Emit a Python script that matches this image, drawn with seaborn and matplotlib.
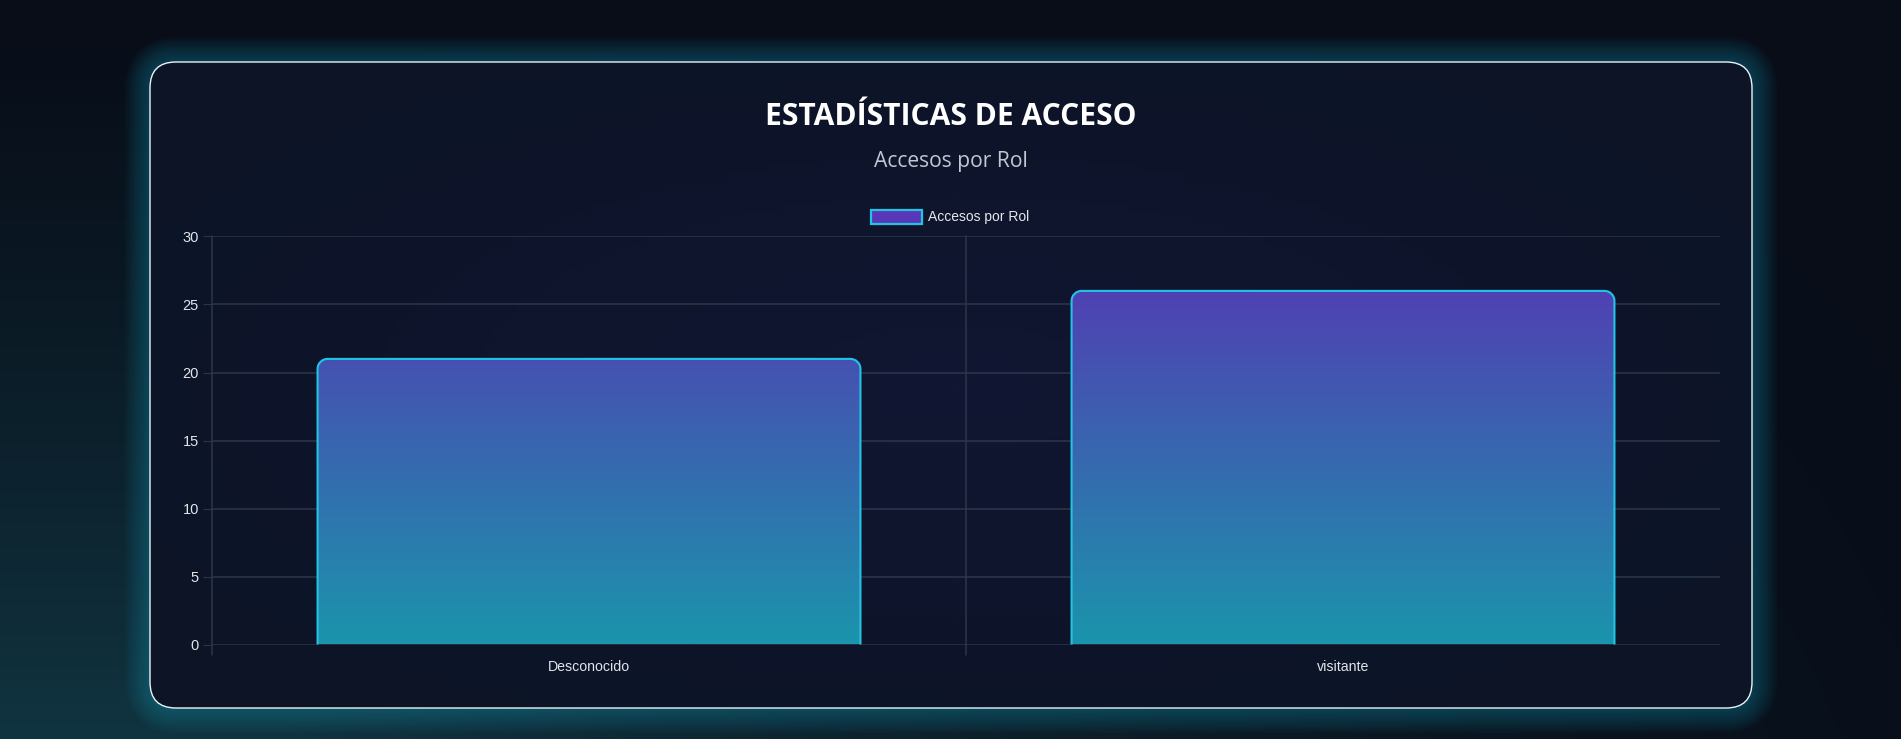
import numpy as np
import pandas as pd
import matplotlib
matplotlib.use("Agg")
import matplotlib.pyplot as plt
import seaborn as sns
from matplotlib.patches import FancyBboxPatch, PathPatch, Rectangle
from matplotlib.path import Path

# datos del grafico
roles = ["Desconocido", "visitante"]
accesos = [21, 26]
y_ticks = [0, 5, 10, 15, 20, 25, 30]
titulo = "ESTADÍSTICAS DE ACCESO"
subtitulo = "Accesos por Rol"
serie = "Accesos por Rol"

W, H = 1901, 739
sns.set_theme(style="dark")
plt.rcParams["font.family"] = ["Liberation Sans", "DejaVu Sans"]

fig = plt.figure(figsize=(W / 100, H / 100), dpi=100)

# ---- fondo de pagina (pixeles) ----
bg = fig.add_axes([0, 0, 1, 1])
bg.set_xlim(0, W)
bg.set_ylim(H, 0)
bg.axis("off")

yy, xx = np.mgrid[0:H, 0:W]
ty = yy / H
tx = xx / W
top = np.array([8, 13, 24]) / 255
teal = np.array([16, 52, 64]) / 255
w = np.clip(ty, 0, 1) ** 1.3 * np.clip(1.15 - tx, 0, 1) ** 1.5
w = w[..., None]
img = top * (1 - w) + teal * w
bg.imshow(img, extent=(0, W, H, 0), aspect="auto", zorder=0)

# tarjeta con brillo
cx0, cy0, cx1, cy1 = 150, 62, 1752, 708
for lw in np.linspace(36, 3, 12):
    glow = FancyBboxPatch((cx0, cy0), cx1 - cx0, cy1 - cy0,
                          boxstyle="round,pad=0,rounding_size=26",
                          fc="none", ec="#1aa6c4", lw=lw, alpha=0.03, zorder=1)
    bg.add_patch(glow)

card = FancyBboxPatch((cx0, cy0), cx1 - cx0, cy1 - cy0,
                      boxstyle="round,pad=0,rounding_size=26",
                      fc="#0d1326", ec="none", zorder=2)
bg.add_patch(card)
cy_, cx_ = np.mgrid[0:100, 0:200]
r = np.sqrt(((cx_ - 100) / 100) ** 2 + ((cy_ - 50) / 50) ** 2)
c_in = np.array([17, 22, 50]) / 255
c_out = np.array([12, 20, 38]) / 255
k = np.clip(r / 1.2, 0, 1)[..., None]
card_img = c_in * (1 - k) + c_out * k
im = bg.imshow(card_img, extent=(cx0, cx1, cy1, cy0), aspect="auto", zorder=2)
im.set_clip_path(card)
bg.add_patch(FancyBboxPatch((cx0, cy0), cx1 - cx0, cy1 - cy0,
                            boxstyle="round,pad=0,rounding_size=26",
                            fc="none", ec="#e8f4f8", lw=1.0, zorder=3))

# titulos
fig.text(0.5, 1 - 117 / H, titulo, ha="center", va="center", color="white",
         fontsize=21.6, fontweight="bold", family=["Open Sans", "DejaVu Sans"])
fig.text(0.5, 1 - 162 / H, subtitulo, ha="center", va="center", color="#c3c7d0",
         fontsize=15.2, family=["Open Sans", "DejaVu Sans"])

# leyenda
lx0, lx1, ly = 871, 922, 217
bg.add_patch(Rectangle((lx0, ly - 7), lx1 - lx0, 14, fc="#5a36b8", ec="#22c4e6",
                       lw=1.6, zorder=4))
bg.text(lx1 + 6, ly, serie, ha="left", va="center", color="#e6e6ee",
        fontsize=10, zorder=4)

# ---- grafico ----
ax = fig.add_axes([212 / W, (H - 644.5) / H, (1720 - 212) / W, 408 / H])
ax.set_facecolor("none")
df = pd.DataFrame({"rol": roles, "accesos": accesos})
sns.barplot(data=df, x="rol", y="accesos", ax=ax, width=0.72, color="#5a36b8")
ax.set_xlim(-0.5, len(roles) - 0.5)
ax.set_ylim(0, 30)
ax.set_yticks(y_ticks)
ax.set_xlabel("")
ax.set_ylabel("")
for s in ax.spines.values():
    s.set_visible(False)

grid_c = "#2b3749"
ax.grid(False)
for v in y_ticks:
    ax.axhline(v, color=grid_c, lw=1.1, zorder=0.5)
ext = -10 / 408
for xv in np.arange(-0.5, len(roles) - 1, 1.0):
    ax.axvline(xv, ymin=ext, ymax=1, color=grid_c, lw=1.1, clip_on=False, zorder=0.5)

ax.tick_params(axis="y", length=6.5, width=0.8, color=grid_c, pad=3,
               labelcolor="#e2e4ea", labelsize=10.5, left=True)
ax.tick_params(axis="x", length=0, pad=11, labelcolor="#e2e4ea", labelsize=10.2)

# barras con degradado y esquinas redondeadas arriba
fig.canvas.draw()
px_x = ax.transData.transform((1, 0))[0] - ax.transData.transform((0, 0))[0]
px_y = ax.transData.transform((0, 1))[1] - ax.transData.transform((0, 0))[1]
rx, ry = 10 / px_x, 10 / px_y
kk = 0.5523
grad = np.linspace(0, 1, 256)[:, None]
c_top = np.array([88, 52, 180]) / 255
c_bot = np.array([27, 148, 172]) / 255
grad_img = c_bot * (1 - grad[..., None]) + c_top * grad[..., None]

for p in list(ax.patches):
    x0 = p.get_x()
    x1 = x0 + p.get_width()
    h = p.get_height()
    p.set_visible(False)
    verts = [(x0, 0), (x0, h - ry),
             (x0, h - ry + kk * ry), (x0 + rx - kk * rx, h), (x0 + rx, h),
             (x1 - rx, h),
             (x1 - rx + kk * rx, h), (x1, h - ry + kk * ry), (x1, h - ry),
             (x1, 0)]
    codes = [Path.MOVETO, Path.LINETO,
             Path.CURVE4, Path.CURVE4, Path.CURVE4,
             Path.LINETO,
             Path.CURVE4, Path.CURVE4, Path.CURVE4,
             Path.LINETO]
    fill = PathPatch(Path(verts + [(x0, 0)], codes + [Path.CLOSEPOLY]),
                     fc="none", ec="none", zorder=2)
    ax.add_patch(fill)
    gi = ax.imshow(grad_img, extent=(x0, x1, 0, 30), origin="lower",
                   aspect="auto", zorder=2)
    gi.set_clip_path(fill)
    ax.add_patch(PathPatch(Path(verts, codes), fc="none", ec="#22c4e6",
                           lw=1.5, zorder=3, capstyle="butt"))

ax.set_xlim(-0.5, len(roles) - 0.5)
ax.set_ylim(0, 30)

fig.savefig("out.png", dpi=100, facecolor=fig.get_facecolor())
